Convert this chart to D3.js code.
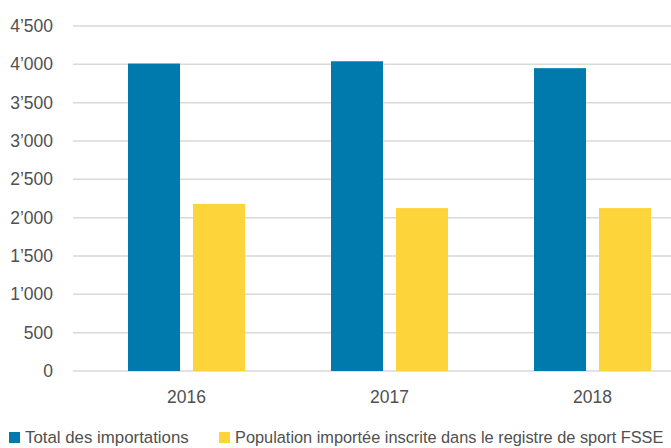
<!DOCTYPE html>
<html>
<head>
<meta charset="utf-8">
<script src="https://cdn.jsdelivr.net/npm/d3@7"></script>
<style>
  body { margin: 0; background: #fff; }
  svg text { font-family: "Liberation Sans Narrow", "Arial Narrow", "Liberation Sans", sans-serif; fill: #505050; }
</style>
</head>
<body>
<svg id="chart" width="671" height="448"></svg>
<script>
const years = ['2016', '2017', '2018'];
const seriesNames = ['Total des importations', 'Population importée inscrite dans le registre de sport FSSE'];
const totalImports = [4010, 4040, 3950];
const registeredFSSE = [2180, 2125, 2125];
const yTicks = [0, 500, 1000, 1500, 2000, 2500, 3000, 3500, 4000, 4500];
const colors = ['#0079ac', '#fdd43a'];

const svg = d3.select('#chart');
const W = 671;
const y = d3.scaleLinear().domain([0, 4500]).range([371, 26]);
const x0 = d3.scaleBand().domain(years).range([85, 694]).padding(0);
const x1 = d3.scaleBand().domain([0, 1]).range([0, 117]).paddingInner(0.2).paddingOuter(0);
const fmt = (v) => d3.format(',')(v).replace(/,/g, '\u2019');

// grid
svg.append('g').selectAll('line').data(yTicks).join('line')
  .attr('x1', 73).attr('x2', W)
  .attr('y1', (d) => y(d)).attr('y2', (d) => y(d))
  .attr('stroke', '#d9d9d9').attr('stroke-width', 1.5);

svg.append('g').selectAll('text').data(yTicks).join('text')
  .attr('x', 53).attr('y', (d) => y(d)).attr('dy', '0.35em')
  .attr('text-anchor', 'end').attr('font-size', 17.5)
  .text(fmt);

const rows = years.map((yr, i) => ({ year: yr, vals: [totalImports[i], registeredFSSE[i]] }));
const grp = svg.append('g').selectAll('g').data(rows).join('g')
  .attr('transform', (d) => `translate(${x0(d.year) + (x0.bandwidth() - 117) / 2},0)`);
grp.selectAll('rect').data((d) => d.vals.map((v, k) => ({ v, k }))).join('rect')
  .attr('x', (d) => x1(d.k)).attr('width', x1.bandwidth())
  .attr('y', (d) => y(d.v)).attr('height', (d) => y(0) - y(d.v))
  .attr('fill', (d) => colors[d.k]);

svg.append('g').selectAll('text').data(years).join('text')
  .attr('x', (d) => x0(d) + x0.bandwidth() / 2).attr('y', 397).attr('dy', '0.35em')
  .attr('text-anchor', 'middle').attr('font-size', 17.5)
  .text((d) => d);

// legend: original face is condensed, so scale text horizontally to its width
const legX = [9, 219];
const legLen = [164, 429];
const leg = svg.append('g').selectAll('g').data(seriesNames).join('g')
  .attr('transform', (d, i) => `translate(${legX[i]},437)`);
leg.append('rect').attr('x', 0).attr('y', -5).attr('width', 11).attr('height', 11)
  .attr('fill', (d, i) => colors[i]);
leg.append('g').attr('transform', 'translate(16,0)')
  .append('text').attr('dy', '0.35em').attr('font-size', 17).text((d) => d)
  .each(function (d, i) {
    const sx = legLen[i] / this.getComputedTextLength();
    d3.select(this.parentNode).attr('transform', `translate(16,0) scale(${sx},1)`);
  });
</script>
</body>
</html>
